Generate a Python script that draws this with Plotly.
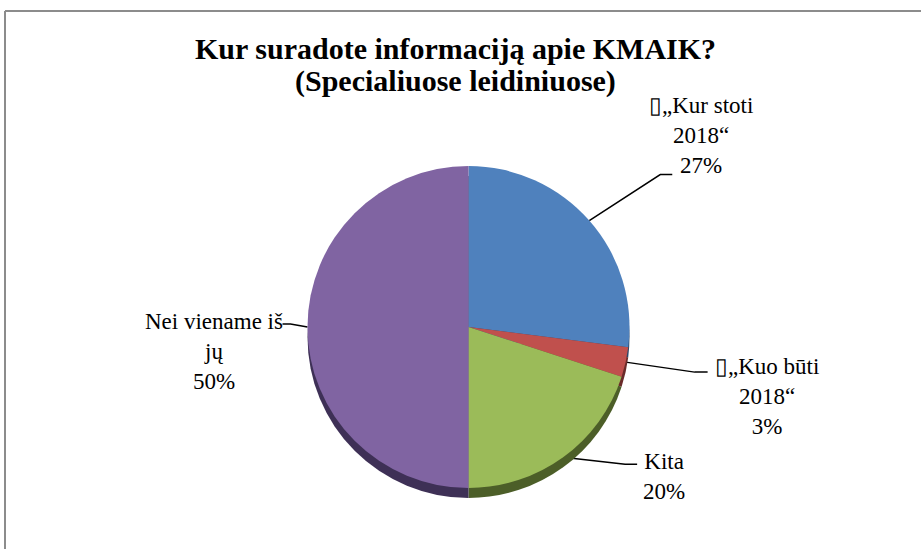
import math
import plotly.graph_objects as go

# ---- data ----
categories = ["\u25af\u201eKur stoti<br>2018\u201c", "\u25af\u201eKuo b\u016bti<br>2018\u201c", "Kita", "Nei viename i\u0161<br>j\u0173"]
values = [27, 3, 20, 50]
colors = ["#4F81BD", "#C0504D", "#9BBB59", "#8064A2"]
shadow_colors = ["#2B4668", "#6A2B2A", "#4C5E28", "#3E3056"]
title_lines = ["Kur suradote informacij\u0105 apie KMAIK?", "(Specialiuose leidiniuose)"]

W, H = 921, 549
CX, CY, R = 468.5, 327.0, 161.0   # pie centre / radius in pixels (top-left origin)
SHADOW = 10
SERIF = "Liberation Serif, Times New Roman, serif"

# leader-line style: knee offset from slice edge, tail length, label offset from tail end
leader_style = [
    dict(knee=(71, -46), tail=12, lab=(29, -39)),
    dict(knee=(69, 10), tail=13, lab=(59, 24)),
    dict(knee=(62, 7), tail=12, lab=(27, 12)),
    dict(knee=(-17, -3), tail=-8, lab=(-69, 27)),
]

fig = go.Figure()

def dom(cy):
    return dict(x=[(CX - R) / W, (CX + R) / W], y=[(H - cy - R) / H, (H - cy + R) / H])

fig.add_trace(go.Pie(values=values, labels=[str(i) for i in range(len(values))],
                     sort=False, direction="clockwise", rotation=0,
                     marker=dict(colors=shadow_colors, line=dict(width=0)),
                     textinfo="none", hoverinfo="skip", showlegend=False,
                     domain=dom(CY + SHADOW)))
fig.add_trace(go.Pie(values=values, labels=[str(i) for i in range(len(values))],
                     sort=False, direction="clockwise", rotation=0,
                     marker=dict(colors=colors, line=dict(width=0)),
                     textinfo="none", hoverinfo="skip", showlegend=False,
                     domain=dom(CY)))

total = sum(values)
cum = 0
annotations = []
for cat, v, st in zip(categories, values, leader_style):
    mid = (cum + v / 2) / total * 2 * math.pi
    cum += v
    ex, ey = CX + R * math.sin(mid), CY - R * math.cos(mid)
    kx, ky = ex + st["knee"][0], ey + st["knee"][1]
    tx, ty = kx + st["tail"], ky
    fig.add_trace(go.Scatter(x=[ex, kx, tx], y=[ey, ky, ty], mode="lines",
                             line=dict(color="black", width=1.5), hoverinfo="skip",
                             showlegend=False, xaxis="x", yaxis="y"))
    pct = f"{round(v / total * 100)}%"
    annotations.append(dict(x=tx + st["lab"][0], y=ty + st["lab"][1], xref="x", yref="y",
                            text=f"{cat}<br>{pct}", showarrow=False, align="center",
                            xanchor="center", yanchor="middle",
                            font=dict(family=SERIF, size=23, color="black")))

for i, (line, yy) in enumerate(zip(title_lines, [48, 81])):
    annotations.append(dict(x=455, y=yy, xref="x", yref="y", text=f"<b>{line}</b>",
                            showarrow=False, xanchor="center", yanchor="middle",
                            font=dict(family=SERIF, size=30, color="black")))

fig.update_layout(
    width=W, height=H, margin=dict(l=0, r=0, t=0, b=0),
    paper_bgcolor="white", plot_bgcolor="rgba(0,0,0,0)",
    xaxis=dict(range=[0, W], visible=False, fixedrange=True),
    yaxis=dict(range=[H, 0], visible=False, fixedrange=True),
    annotations=annotations,
    shapes=[
        dict(type="line", xref="x", yref="y", x0=5, y0=11, x1=5, y1=H + 5,
             line=dict(color="#8C8C8C", width=2)),
        dict(type="line", xref="x", yref="y", x0=5, y0=11, x1=W + 5, y1=11,
             line=dict(color="#8C8C8C", width=2)),
    ],
)

fig.write_html("out.html", config={"displayModeBar": False},
               post_script="document.body.style.margin='0';document.body.style.overflow='hidden';")
